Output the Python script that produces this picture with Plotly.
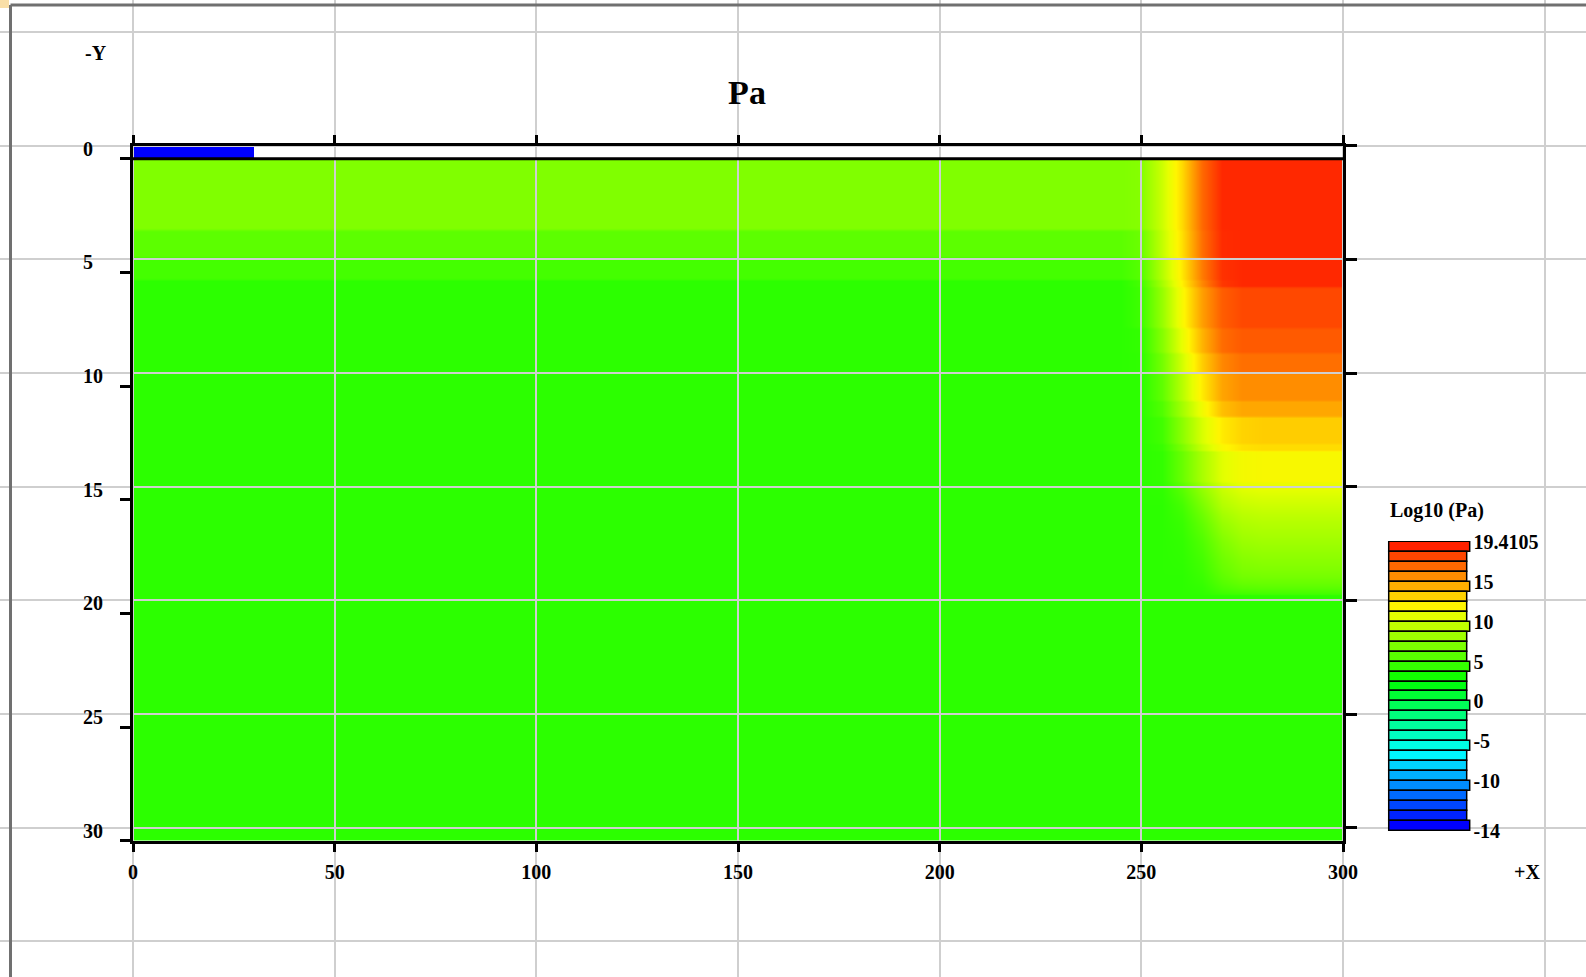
import colorsys
import plotly.graph_objects as go

# ---------------------------------------------------------------- data
# Column positions (m) of the model grid and layer boundaries (m, depth)
x_cols = [0, 240, 245, 250, 255, 260, 265, 270, 275, 280, 300]
layer_edges = [0.57, 3.7, 4.9, 5.9, 6.2, 8.0, 9.1, 10.0, 11.2, 11.9, 13.1,
               13.4, 14.8, 15.5, 16.2, 17.0, 17.8, 18.6, 19.2, 19.7, 30.57]
# layers whose boundaries are sharp steps (False = blends into neighbours)
stepped_layer = [True] * 12 + [False] * 7 + [True]

# log10(Pa) per layer (rows) at each column of x_cols
log_pa = [
    [7.6, 7.6, 7.6, 7.8, 10.2, 13.2, 17.0, 19.2, 19.2, 19.2, 19.2],
    [6.4, 6.4, 6.4, 6.9, 9.9, 13.0, 16.8, 19.1, 19.2, 19.2, 19.2],
    [5.6, 5.6, 5.6, 6.2, 9.4, 12.7, 16.4, 18.9, 19.2, 19.2, 19.2],
    [4.8, 4.8, 4.8, 5.6, 8.9, 12.4, 16.0, 18.7, 19.2, 19.2, 19.2],
    [4.8, 4.8, 4.8, 5.4, 8.4, 11.9, 15.2, 17.4, 18.1, 18.1, 18.1],
    [4.8, 4.8, 4.8, 5.0, 7.8, 11.2, 14.5, 16.9, 17.5, 17.5, 17.5],
    [4.8, 4.8, 4.8, 4.9, 7.2, 10.4, 13.6, 16.0, 16.8, 16.8, 16.8],
    [4.8, 4.8, 4.8, 4.8, 6.5, 9.5, 12.6, 15.0, 15.8, 15.8, 15.8],
    [4.8, 4.8, 4.8, 4.8, 6.0, 8.8, 11.6, 14.1, 14.9, 14.9, 14.9],
    [4.8, 4.8, 4.8, 4.8, 5.5, 8.0, 10.6, 12.6, 13.4, 13.6, 13.6],
    [4.8, 4.8, 4.8, 4.8, 5.2, 7.4, 10.0, 12.0, 12.9, 13.1, 13.1],
    [4.8, 4.8, 4.8, 4.8, 5.0, 6.8, 9.0, 10.9, 11.7, 11.9, 11.9],
    [4.8, 4.8, 4.8, 4.8, 4.9, 6.2, 8.2, 10.0, 10.8, 11.0, 11.0],
    [4.8, 4.8, 4.8, 4.8, 4.8, 5.6, 7.4, 9.3, 10.0, 10.2, 10.2],
    [4.8, 4.8, 4.8, 4.8, 4.8, 5.2, 6.6, 8.4, 9.2, 9.4, 9.4],
    [4.8, 4.8, 4.8, 4.8, 4.8, 5.0, 6.0, 7.6, 8.5, 8.7, 8.7],
    [4.8, 4.8, 4.8, 4.8, 4.8, 4.9, 5.6, 7.0, 7.8, 8.0, 8.0],
    [4.8, 4.8, 4.8, 4.8, 4.8, 4.8, 5.3, 6.5, 7.2, 7.3, 7.3],
    [4.8, 4.8, 4.8, 4.8, 4.8, 4.8, 5.0, 5.8, 6.2, 6.3, 6.3],
    [4.8, 4.8, 4.8, 4.8, 4.8, 4.8, 4.8, 4.8, 4.8, 4.8, 4.8],
]

# surface strip above the model top
strip_x_edges = [0, 30]
strip_depth_edges = [0, 0.57]
strip_log_pa = [[-14]]

z_min, z_max = -14, 19.4105
n_levels = 29
level_labels = ["19.4105", "15", "10", "5", "0", "-5", "-10", "-14"]
level_label_pos = [-0.5, 3.5, 7.5, 11.5, 15.5, 19.5, 23.5, 28.5]
labelled_levels = [0, 4, 8, 12, 16, 20, 24, 28]

x_ticks = [0, 50, 100, 150, 200, 250, 300]
depth_ticks = [0, 5, 10, 15, 20, 25, 30]
left_tick_offset = 0.57
x_range = [0, 300]
depth_range = [30.57, 0]

# ---------------------------------------------------------------- geometry
W, H = 1586, 977
PX_X0, PX_X1 = 133.0, 1343.0              # px of x = 0 and x = 300
PX_Y0, PX_Y1 = 145.7, 840.7               # px of depth 0 and 30.57
px_per_x = (PX_X1 - PX_X0) / (x_range[1] - x_range[0])
px_per_y = (PX_Y1 - PX_Y0) / depth_range[0]


def fx(px):
    """x pixel -> paper fraction"""
    return px / W


def fy(py):
    """y pixel (from top) -> paper fraction"""
    return 1 - py / H


FONT = dict(family="Liberation Serif", color="black", weight="bold")


def font(size):
    return dict(FONT, size=size)


def level_color(i):
    """Colour of level band i (0 = top / highest value)."""
    hue = 8 + i * (232 / (n_levels - 1))
    r, g, b = colorsys.hsv_to_rgb(hue / 360.0, 1.0, 1.0)
    return "rgb(%d,%d,%d)" % (round(r * 255), round(g * 255), round(b * 255))


band_colors = [level_color(i) for i in range(n_levels)]
colorscale = [[k / (n_levels - 1), band_colors[n_levels - 1 - k]]
              for k in range(n_levels)]

# Stepped layers get thin top/bottom cells so the smoothed image keeps a
# sharp step at their boundaries while still blending along x.
EDGE = 0.12
y_edges, z_rows = [layer_edges[0]], []
for k, row in enumerate(log_pa):
    top, bot = layer_edges[k], layer_edges[k + 1]
    if stepped_layer[k]:
        e = min(EDGE, (bot - top) / 4)
        y_edges += [top + e, bot - e, bot]
        z_rows += [row, row, row]
    else:
        y_edges += [bot]
        z_rows += [row]

main_dom_x = [fx(PX_X0), fx(PX_X1)]
main_dom_y = [fy(PX_Y1), fy(PX_Y0)]

fig = go.Figure()

# model field
fig.add_trace(go.Heatmap(
    x=x_cols, y=y_edges, z=z_rows, zsmooth="best",
    colorscale=colorscale, zmin=z_min, zmax=z_max, showscale=False,
    xaxis="x", yaxis="y", hoverinfo="skip"))
fig.add_trace(go.Heatmap(
    x=strip_x_edges, y=strip_depth_edges, z=strip_log_pa,
    colorscale=colorscale, zmin=z_min, zmax=z_max, showscale=False,
    xaxis="x", yaxis="y", hoverinfo="skip"))

# background grid layer, frame layer and right-hand ticks
fig.add_trace(go.Scatter(x=[], y=[], xaxis="x2", yaxis="y2",
                         hoverinfo="skip", showlegend=False))
fig.add_trace(go.Scatter(x=[], y=[], xaxis="x3", yaxis="y3",
                         hoverinfo="skip", showlegend=False))
fig.add_trace(go.Scatter(x=[], y=[], xaxis="x3", yaxis="y5",
                         hoverinfo="skip", showlegend=False))

# level legend
fig.add_trace(go.Bar(
    y=list(range(n_levels)),
    x=[1.05 if i in labelled_levels else 1.0 for i in range(n_levels)],
    orientation="h", width=1.0,
    marker=dict(color=band_colors, line=dict(color="black", width=1.5)),
    xaxis="x4", yaxis="y4", hoverinfo="skip", showlegend=False))

grid_x_range = [-PX_X0 / px_per_x, (W - PX_X0) / px_per_x]
grid_y_range = [(H - PX_Y0) / px_per_y, -PX_Y0 / px_per_y]
grid_x_vals = list(range(-50, 401, 50))
grid_y_vals = list(range(-5, 41, 5))

cb_px_left = 1389 - 0.02 * 78
cb_px_right = cb_px_left + 1.09 * 78
cb_px_top = 542 - 0.1 * 9.966
cb_px_bot = cb_px_top + 29.2 * 9.966

fig.update_layout(
    width=W, height=H, autosize=False,
    margin=dict(l=0, r=0, t=0, b=0, pad=0, autoexpand=False),
    paper_bgcolor="white", plot_bgcolor="rgba(0,0,0,0)",
    showlegend=False, bargap=0,
    title=dict(text="Pa", font=font(34), x=fx(747), xanchor="center",
               y=fy(92), yanchor="middle", xref="paper", yref="paper",
               automargin=False),
    xaxis=dict(domain=main_dom_x, range=x_range, visible=False,
               anchor="y", automargin=False),
    yaxis=dict(domain=main_dom_y, range=depth_range, visible=False,
               anchor="x", automargin=False),
    xaxis2=dict(domain=[0, 1], range=grid_x_range, anchor="y2",
                automargin=False,
                showgrid=True, gridcolor="#cfcfcf", gridwidth=1.5,
                tickmode="array", tickvals=grid_x_vals,
                showticklabels=False, ticks="", zeroline=False,
                showline=False),
    yaxis2=dict(domain=[0, 1], range=grid_y_range, anchor="x2",
                automargin=False,
                showgrid=True, gridcolor="#cfcfcf", gridwidth=1.5,
                tickmode="array", tickvals=grid_y_vals,
                ticktext=[str(v) if v in depth_ticks else ""
                          for v in grid_y_vals],
                ticks="", zeroline=False, showline=False,
                ticklabelposition="inside", ticklabelstandoff=80,
                ticklabelshift=-3, tickfont=font(20)),
    xaxis3=dict(domain=main_dom_x, range=x_range, anchor="y3",
                automargin=False,
                showgrid=False, zeroline=False,
                showline=True, linecolor="black", linewidth=3,
                mirror="ticks", ticks="outside", ticklen=8, tickwidth=3,
                tickcolor="black", tickmode="array", tickvals=x_ticks,
                ticktext=[str(v) for v in x_ticks], tickfont=font(20),
                ticklabelstandoff=3),
    yaxis3=dict(domain=main_dom_y, range=depth_range, anchor="x3",
                automargin=False,
                showgrid=False, zeroline=False,
                showline=True, linecolor="black", linewidth=3,
                ticks="outside", ticklen=10, tickwidth=3, tickcolor="black",
                tickmode="array",
                tickvals=[v + left_tick_offset for v in depth_ticks],
                showticklabels=False),
    yaxis5=dict(overlaying="y3", side="right", anchor="x3",
                automargin=False,
                range=depth_range, showgrid=False, zeroline=False,
                showline=True, linecolor="black", linewidth=3,
                ticks="outside", ticklen=11, tickwidth=3, tickcolor="black",
                tickmode="array", tickvals=depth_ticks,
                showticklabels=False),
    xaxis4=dict(domain=[fx(cb_px_left), fx(cb_px_right)],
                range=[-0.02, 1.07], visible=False, anchor="y4",
                automargin=False),
    yaxis4=dict(domain=[fy(cb_px_bot), fy(cb_px_top)],
                range=[28.6, -0.6], anchor="x4", side="right",
                automargin=False,
                showgrid=False, zeroline=False, showline=False, ticks="",
                tickmode="array", tickvals=level_label_pos,
                ticktext=level_labels, tickfont=font(20)),
    annotations=[
        dict(text="-Y", x=fx(83), y=fy(53), xref="paper", yref="paper",
             xanchor="left", yanchor="middle", showarrow=False,
             font=font(20)),
        dict(text="+X", x=fx(1527), y=fy(872), xref="paper",
             yref="paper", xanchor="center", yanchor="middle",
             showarrow=False, font=font(20)),
        dict(text="Log10 (Pa)", x=fx(1388), y=fy(510), xref="paper",
             yref="paper", xanchor="left", yanchor="middle",
             showarrow=False, font=font(20)),
    ],
    shapes=[
        # model top surface
        dict(type="line", xref="x3", yref="y3", x0=x_range[0],
             x1=x_range[1], y0=strip_depth_edges[1],
             y1=strip_depth_edges[1], line=dict(color="black", width=3),
             layer="above"),
        # window frame
        dict(type="line", xref="paper", yref="paper", x0=fx(10.5),
             x1=fx(10.5), y0=0, y1=fy(5), line=dict(color="#707070", width=3)),
        dict(type="line", xref="paper", yref="paper", x0=fx(10.5), x1=1,
             y0=fy(5), y1=fy(5), line=dict(color="#707070", width=3)),
        dict(type="rect", xref="paper", yref="paper", x0=0, x1=fx(9),
             y0=fy(8), y1=1, fillcolor="#f9dfa8", line=dict(width=0)),
    ],
)

fig.write_html("out.html", config=dict(displayModeBar=False))
